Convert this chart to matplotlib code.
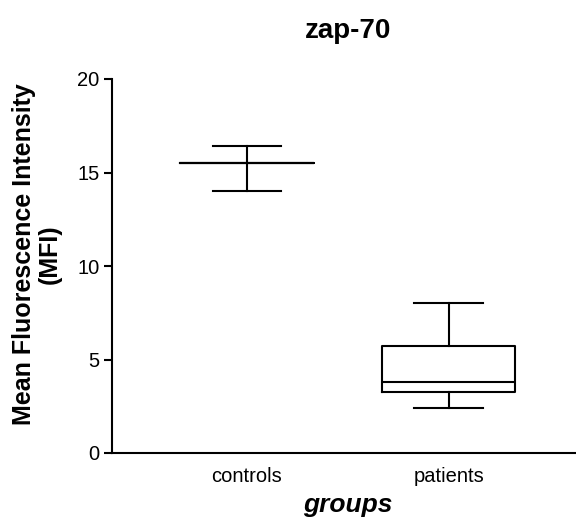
import matplotlib
matplotlib.use("Agg")
import matplotlib.pyplot as plt

plt.rcParams['font.family'] = ['Liberation Sans', 'DejaVu Sans']

# box summary
groups = ["controls", "patients"]
whislo = [14.0, 2.4]
q1 = [15.5, 3.25]
med = [15.5, 3.8]
q3 = [15.5, 5.7]
whishi = [16.4, 8.0]

stats = []
for i in range(len(groups)):
    stats.append({"label": groups[i], "whislo": whislo[i], "q1": q1[i],
                  "med": med[i], "q3": q3[i], "whishi": whishi[i], "fliers": []})

W, H = 576, 518
fig = plt.figure(figsize=(W / 100, H / 100), dpi=100)
# axes spans x 112..576, y 79..453 in pixels
ax = fig.add_axes([112 / W, 1 - 453 / H, 1 - 112 / W, (453 - 79) / H])

lw = 1.5
ax.bxp(stats, positions=[1, 2], widths=0.66, showfliers=False,
       boxprops=dict(color="black", linewidth=lw),
       medianprops=dict(color="black", linewidth=lw),
       whiskerprops=dict(color="black", linewidth=lw),
       capprops=dict(color="black", linewidth=lw),
       capwidths=0.34)

ax.set_xlim(0.332, 2.63)
ax.set_ylim(0, 20)
ax.set_yticks([0, 5, 10, 15, 20])
ax.spines["top"].set_visible(False)
ax.spines["right"].set_visible(False)
ax.spines["left"].set_linewidth(lw)
ax.spines["bottom"].set_linewidth(lw)
ax.tick_params(axis="y", length=6, width=lw, labelsize=14.5, pad=3)
ax.tick_params(axis="x", length=0, labelsize=14.5, pad=10)

fig.text(348 / W, 1 - 38 / H, "zap-70", fontsize=20, fontweight="bold",
         ha="center", va="baseline")
fig.text(37 / W, 1 - 254 / H, "Mean Fluorescence Intensity\n(MFI)", fontsize=18,
         fontweight="bold", rotation=90, ha="center", va="center",
         multialignment="center", linespacing=1.1)
fig.text(348 / W, 1 - 512 / H, "groups", fontsize=19, fontweight="bold",
         style="italic", ha="center", va="baseline")

fig.savefig("out.png", dpi=100)
